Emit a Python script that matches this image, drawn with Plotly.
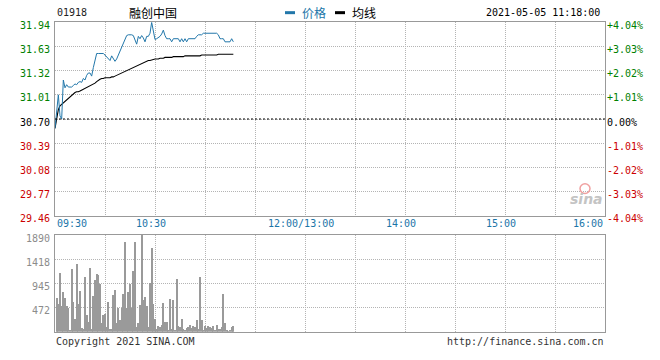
import plotly.graph_objects as go

# ---------------- data ----------------
stock_code = "01918"
stock_name = "融创中国"
timestamp = "2021-05-05 11:18:00"
prev_close = 30.70

price = [30.58, 30.80, 31.01, 30.74, 30.70, 31.20, 31.10, 31.14, 31.11, 31.11,
         31.11, 31.13, 31.15, 31.14, 31.17, 31.18, 31.17, 31.22, 31.20, 31.26,
         31.29, 31.29, 31.25, 31.36, 31.45, 31.54, 31.54, 31.54, 31.54, 31.54,
         31.52, 31.50, 31.47, 31.45, 31.51, 31.47, 31.44, 31.47, 31.52, 31.57,
         31.62, 31.67, 31.73, 31.77, 31.78, 31.78, 31.78, 31.77, 31.72, 31.66,
         31.76, 31.73, 31.77, 31.74, 31.69, 31.76, 31.76, 31.80, 31.94, 31.82,
         31.72, 31.73, 31.74, 31.76, 31.79, 31.84, 31.77, 31.73, 31.73, 31.73,
         31.69, 31.73, 31.73, 31.73, 31.73, 31.69, 31.73, 31.69, 31.73, 31.69,
         31.73, 31.73, 31.73, 31.73, 31.73, 31.76, 31.78, 31.78, 31.78, 31.80,
         31.80, 31.80, 31.80, 31.80, 31.80, 31.80, 31.80, 31.80, 31.78, 31.73,
         31.73, 31.73, 31.69, 31.69, 31.69, 31.69, 31.73, 31.69]

avg_price = [30.58, 30.72, 30.82, 30.87, 30.89, 30.91, 30.93, 30.95, 30.97, 30.99,
             31.01, 31.03, 31.04, 31.05, 31.05, 31.06, 31.07, 31.08, 31.09, 31.10,
             31.11, 31.12, 31.13, 31.14, 31.16, 31.18, 31.20, 31.21, 31.22, 31.22,
             31.23, 31.23, 31.23, 31.23, 31.24, 31.24, 31.25, 31.26, 31.27, 31.28,
             31.29, 31.30, 31.32, 31.33, 31.34, 31.35, 31.36, 31.37, 31.38, 31.39,
             31.40, 31.41, 31.42, 31.43, 31.43, 31.44, 31.45, 31.45, 31.46, 31.46,
             31.47, 31.47, 31.47, 31.48, 31.48, 31.48, 31.49, 31.49, 31.49, 31.49,
             31.49, 31.50, 31.50, 31.50, 31.50, 31.50, 31.50, 31.50, 31.51, 31.51,
             31.51, 31.51, 31.51, 31.51, 31.51, 31.51, 31.51, 31.51, 31.52, 31.52,
             31.52, 31.52, 31.52, 31.52, 31.52, 31.52, 31.52, 31.52, 31.53, 31.53,
             31.53, 31.53, 31.53, 31.53, 31.53, 31.53, 31.53, 31.53]

volume = [0, 660, 550, 1150, 505, 775, 660, 505, 470, 30,
          1230, 585, 250, 1320, 550, 800, 80, 50, 1070, 330,
          190, 1240, 60, 700, 1010, 1135, 1100, 925, 160, 335,
          345, 100, 585, 60, 60, 725, 815, 160, 470, 235,
          470, 735, 1750, 470, 775, 930, 470, 1195, 1750, 90,
          160, 520, 1890, 610, 680, 505, 90, 945, 1630, 535,
          250, 50, 115, 100, 130, 565, 190, 190, 30, 630,
          60, 610, 30, 1025, 120, 100, 250, 60, 30, 80,
          100, 130, 70, 110, 100, 220, 60, 1060, 235, 30,
          110, 80, 110, 90, 80, 120, 30, 140, 60, 60,
          90, 740, 170, 30, 10, 30, 90, 115]

minutes = list(range(len(price)))

price_ticks = [29.46, 29.77, 30.08, 30.39, 30.70, 31.01, 31.32, 31.63, 31.94]
volume_ticks = [472, 945, 1418, 1890]
time_pos = [0, 60, 150, 210, 270, 330]
time_labels = ["09:30", "10:30", "12:00/13:00", "14:00", "15:00", "16:00"]

# ---------------- styling ----------------
W, H = 660, 360
PL, PR = 55, 605
MONO = "DejaVu Sans Mono"
GREEN = "#008000"
RED = "#cc0000"
BLUE_LINE = "#2277aa"
BLUE_TXT = "#1b75a8"
GRID = "#b4b4b4"
BORDER = "#999999"


def py(px):
    return 1 - px / H


def px_x(px):
    return px / W


def col(v):
    if v > prev_close + 1e-9:
        return GREEN
    if v < prev_close - 1e-9:
        return RED
    return "#000000"


left_text = ['<span style="color:%s">%.2f</span>' % (col(v), v) for v in price_ticks]


def pct(v):
    p = (v - prev_close) / prev_close * 100
    if abs(p) < 1e-9:
        return "0.00%"
    return ("+" if p > 0 else "") + "%.2f%%" % p


right_text = ['<span style="color:%s">%s</span>' % (col(v), pct(v)) for v in price_ticks]

fig = go.Figure()

fig.add_trace(go.Scatter(x=minutes, y=avg_price, mode="lines",
                         line=dict(color="#000000", width=1.1),
                         xaxis="x", yaxis="y", hoverinfo="skip"))
fig.add_trace(go.Scatter(x=minutes, y=price, mode="lines",
                         line=dict(color=BLUE_LINE, width=1),
                         xaxis="x", yaxis="y", hoverinfo="skip"))
# invisible trace to carry the percent axis
fig.add_trace(go.Scatter(x=minutes, y=price, mode="lines", opacity=0,
                         line=dict(width=0), xaxis="x", yaxis="y3",
                         hoverinfo="skip"))
fig.add_trace(go.Bar(x=minutes, y=volume, width=0.5,
                     marker=dict(color="#9a9a9a", line=dict(width=0)),
                     xaxis="x2", yaxis="y2", hoverinfo="skip"))

xdom = [px_x(PL), px_x(PR)]
common_x = dict(range=[0, 330], domain=xdom, tickvals=list(range(0, 331, 30)),
                showticklabels=False, showgrid=True, gridcolor=GRID,
                griddash="1px,1px", gridwidth=1, zeroline=False,
                showline=True, mirror=True, linecolor=BORDER, linewidth=1,
                ticks="", fixedrange=True)

fig.update_layout(
    width=W, height=H, autosize=False,
    margin=dict(l=0, r=0, t=0, b=0, pad=0),
    paper_bgcolor="white", plot_bgcolor="white",
    showlegend=False, bargap=0,
    font=dict(family=MONO, size=10, color="#333333"),
    xaxis=dict(anchor="y", **common_x),
    xaxis2=dict(anchor="y2", **common_x),
    yaxis=dict(domain=[py(220), py(20)], range=[price_ticks[0], price_ticks[-1]],
               tickvals=price_ticks, ticktext=left_text,
               tickfont=dict(family=MONO, size=10),
               showgrid=True, gridcolor=GRID, griddash="1px,1px", gridwidth=1,
               zeroline=False, showline=True, mirror=True, linecolor=BORDER,
               linewidth=1, ticks="", ticklabelstandoff=2, ticklabelshift=3,
               fixedrange=True),
    yaxis3=dict(overlaying="y", side="right", anchor="x",
                range=[price_ticks[0], price_ticks[-1]],
                tickvals=price_ticks, ticktext=right_text,
                tickfont=dict(family=MONO, size=10),
                showgrid=False, zeroline=False, showline=False, ticks="",
                ticklabelstandoff=1, ticklabelshift=3, fixedrange=True),
    yaxis2=dict(domain=[py(340), py(240)], range=[0, 1890],
                tickvals=volume_ticks, ticktext=[str(v) for v in volume_ticks],
                tickfont=dict(family=MONO, size=10, color="#8c8c8c"),
                showgrid=True, gridcolor=GRID, griddash="1px,1px", gridwidth=1,
                zeroline=False, showline=True, mirror=True, linecolor=BORDER,
                linewidth=1, ticks="", ticklabelstandoff=2, ticklabelshift=3,
                fixedrange=True),
)

# previous close dashed line
fig.add_shape(type="line", xref="x", yref="y", x0=0, x1=330,
              y0=prev_close, y1=prev_close,
              line=dict(color="#000000", width=1, dash="2px,2px"))

ann = []
# time labels
for pos, lab in zip(time_pos, time_labels):
    if pos == time_pos[0]:
        xa, xs = "left", 0
    elif pos == time_pos[-1]:
        xa, xs = "right", 0
    else:
        xa, xs = "center", -4
    ann.append(dict(x=pos, xref="x", y=py(228), yref="paper", text=lab,
                    showarrow=False, xanchor=xa, yanchor="middle", xshift=xs,
                    font=dict(family=MONO, size=10, color=BLUE_TXT)))

# header
ann.append(dict(x=px_x(55), y=py(10), xref="paper", yref="paper", text=stock_code,
                showarrow=False, xanchor="left", yanchor="middle",
                font=dict(family=MONO, size=10, color="#222222")))
ann.append(dict(x=px_x(153), y=py(10), xref="paper", yref="paper", text=stock_name,
                showarrow=False, xanchor="center", yanchor="middle",
                font=dict(family="Noto Sans CJK SC", size=12, color="#000000")))
ann.append(dict(x=px_x(300), y=py(10), xref="paper", yref="paper", text="价格",
                showarrow=False, xanchor="left", yanchor="middle",
                font=dict(family="Noto Sans CJK SC", size=12, color=BLUE_TXT)))
ann.append(dict(x=px_x(350), y=py(10), xref="paper", yref="paper", text="均线",
                showarrow=False, xanchor="left", yanchor="middle",
                font=dict(family="Noto Sans CJK SC", size=12, color="#000000")))
ann.append(dict(x=px_x(602), y=py(10), xref="paper", yref="paper", text=timestamp,
                showarrow=False, xanchor="right", yanchor="middle",
                font=dict(family=MONO, size=10, color="#000000")))

# footer
ann.append(dict(x=px_x(54), y=py(350), xref="paper", yref="paper",
                text="Copyright 2021 SINA.COM", showarrow=False,
                xanchor="left", yanchor="middle",
                font=dict(family=MONO, size=10, color="#333333")))
ann.append(dict(x=px_x(606), y=py(350), xref="paper", yref="paper",
                text="http://finance.sina.com.cn", showarrow=False,
                xanchor="right", yanchor="middle",
                font=dict(family=MONO, size=10, color="#333333")))

# sina watermark
ann.append(dict(x=px_x(586), y=py(203), xref="paper", yref="paper",
                text="<b><i>sina</i></b>", showarrow=False,
                xanchor="center", yanchor="middle",
                font=dict(family="DejaVu Sans", size=14, color="#c4c4c4")))
fig.update_layout(annotations=ann)

# legend icons and watermark eye
fig.add_shape(type="line", xref="paper", yref="paper",
              x0=px_x(285), x1=px_x(295), y0=py(10), y1=py(10),
              line=dict(color=BLUE_LINE, width=3))
fig.add_shape(type="line", xref="paper", yref="paper",
              x0=px_x(335), x1=px_x(345), y0=py(10), y1=py(10),
              line=dict(color="#000000", width=3))
fig.add_shape(type="circle", xref="paper", yref="paper",
              x0=px_x(580), x1=px_x(590), y0=py(197), y1=py(187),
              line=dict(color="#f0a0a0", width=1.5), fillcolor="rgba(0,0,0,0)")

fig.write_html("out.html")
